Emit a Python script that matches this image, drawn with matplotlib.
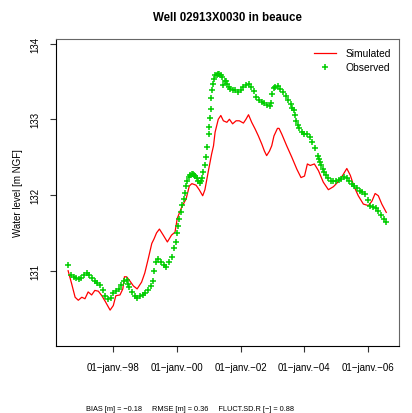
import matplotlib
matplotlib.use("Agg")
import matplotlib.pyplot as plt

plt.rcParams['font.family'] = ['Liberation Sans', 'DejaVu Sans']

# -----------------------------
# Data (decimal years, m NGF)
# -----------------------------
obs_year = [
    1996.58, 1996.67, 1996.75, 1996.83, 1996.92,
    1997.00, 1997.08, 1997.17, 1997.25, 1997.33, 1997.42, 1997.50, 1997.58, 1997.67, 1997.75, 1997.83, 1997.92,
    1998.00, 1998.08, 1998.17, 1998.25, 1998.33, 1998.42, 1998.46, 1998.50, 1998.58, 1998.67, 1998.75, 1998.83, 1998.92,
    1999.00, 1999.08, 1999.17, 1999.25, 1999.29, 1999.33, 1999.42, 1999.50, 1999.58, 1999.67, 1999.75, 1999.83, 1999.92, 1999.96,
    2000.00, 2000.04, 2000.08, 2000.13, 2000.17, 2000.21, 2000.25, 2000.29, 2000.33, 2000.38, 2000.42, 2000.46,
    2000.50, 2000.54, 2000.58, 2000.63, 2000.67, 2000.71, 2000.75, 2000.79, 2000.83, 2000.88, 2000.92, 2000.96,
    2001.00, 2001.02, 2001.04, 2001.06, 2001.08, 2001.11, 2001.13, 2001.17, 2001.21, 2001.25, 2001.29, 2001.33,
    2001.38, 2001.42, 2001.46, 2001.50, 2001.54, 2001.58, 2001.63, 2001.67, 2001.75, 2001.83, 2001.92,
    2002.00, 2002.08, 2002.17, 2002.25, 2002.33, 2002.42, 2002.50, 2002.58, 2002.67, 2002.75, 2002.83, 2002.92, 2002.96,
    2003.00, 2003.04, 2003.08, 2003.17, 2003.25, 2003.33, 2003.42, 2003.50, 2003.58, 2003.63, 2003.67, 2003.71,
    2003.75, 2003.79, 2003.83, 2003.92,
    2004.00, 2004.08, 2004.17, 2004.25, 2004.33, 2004.42, 2004.46, 2004.50, 2004.54, 2004.58, 2004.63, 2004.67,
    2004.75, 2004.83, 2004.92,
    2005.00, 2005.08, 2005.17, 2005.25, 2005.33, 2005.42, 2005.50, 2005.58, 2005.67, 2005.75, 2005.83, 2005.92,
    2006.00, 2006.08, 2006.17, 2006.25, 2006.33, 2006.42, 2006.50, 2006.58,
]
obs_level = [
    131.07, 130.95, 130.92, 130.90, 130.89,
    130.91, 130.94, 130.97, 130.94, 130.90, 130.86, 130.84, 130.81, 130.74, 130.67, 130.63, 130.64,
    130.70, 130.73, 130.76, 130.81, 130.86, 130.88, 130.83, 130.79, 130.72, 130.67, 130.64, 130.66, 130.68,
    130.71, 130.74, 130.80, 130.87, 131.00, 131.12, 131.15, 131.11, 131.08, 131.05, 131.11, 131.18, 131.30, 131.38,
    131.50, 131.59, 131.68, 131.78, 131.87, 131.95, 132.02, 132.12, 132.19, 132.24, 132.26, 132.28,
    132.28, 132.27, 132.25, 132.22, 132.19, 132.16, 132.18, 132.22, 132.31, 132.40, 132.50, 132.63,
    132.80, 132.90, 133.02, 133.13, 133.28, 133.38, 133.46, 133.53, 133.58, 133.59, 133.60, 133.60,
    133.59, 133.56, 133.45, 133.51, 133.50, 133.46, 133.43, 133.40, 133.39, 133.38, 133.36,
    133.38, 133.42, 133.45, 133.46, 133.43, 133.37, 133.30, 133.25, 133.23, 133.22, 133.19, 133.17, 133.22,
    133.33, 133.41, 133.43, 133.44, 133.40, 133.36, 133.31, 133.25, 133.20, 133.15, 133.12, 133.05,
    132.98, 132.92, 132.88, 132.83,
    132.81, 132.80, 132.76, 132.70, 132.62, 132.52, 132.48, 132.44, 132.39, 132.34, 132.30, 132.27,
    132.22, 132.19, 132.18,
    132.19, 132.20, 132.21, 132.24, 132.22, 132.18, 132.15, 132.12, 132.09, 132.05, 132.04, 132.01,
    131.93, 131.86, 131.84, 131.83, 131.79, 131.73, 131.68, 131.64,
]

sim_year = [
    1996.58, 1996.69, 1996.80, 1996.90, 1997.01, 1997.11, 1997.21, 1997.32, 1997.42, 1997.53, 1997.64, 1997.74, 1997.90,
    1998.00, 1998.08, 1998.21, 1998.30, 1998.35, 1998.42, 1998.53, 1998.63, 1998.75, 1998.89, 1998.99,
    1999.10, 1999.21, 1999.28, 1999.36, 1999.45, 1999.57, 1999.70, 1999.83, 1999.94,
    2000.01, 2000.15, 2000.29, 2000.39, 2000.47, 2000.60, 2000.70, 2000.81, 2000.88, 2000.99,
    2001.09, 2001.15, 2001.20, 2001.30, 2001.38, 2001.46, 2001.57, 2001.65, 2001.75, 2001.86, 2001.96,
    2002.09, 2002.17, 2002.25, 2002.35, 2002.46, 2002.56, 2002.67, 2002.75, 2002.82, 2002.91, 2002.98,
    2003.05, 2003.16, 2003.21, 2003.30, 2003.45, 2003.61, 2003.77, 2003.90,
    2004.01, 2004.10, 2004.19, 2004.32, 2004.45, 2004.60, 2004.76, 2004.92,
    2005.08, 2005.21, 2005.34, 2005.45, 2005.56, 2005.70, 2005.86,
    2006.02, 2006.13, 2006.23, 2006.33, 2006.44, 2006.58,
]
sim_level = [
    131.00, 130.83, 130.65, 130.61, 130.65, 130.63, 130.72, 130.68, 130.74, 130.73, 130.67, 130.60, 130.48,
    130.54, 130.67, 130.68, 130.76, 130.92, 130.92, 130.86, 130.80, 130.76, 130.85, 130.97,
    131.16, 131.36, 131.42, 131.50, 131.55, 131.47, 131.38, 131.47, 131.51,
    131.69, 131.84, 131.95, 132.12, 132.15, 132.13, 132.07, 131.99, 132.07, 132.32,
    132.54, 132.65, 132.83, 133.00, 133.05, 132.98, 132.96, 133.00, 132.94, 132.98, 132.98,
    132.95, 133.00, 133.06, 132.96, 132.87, 132.78, 132.67, 132.58, 132.52, 132.58, 132.65,
    132.78, 132.88, 132.88, 132.80, 132.65, 132.50, 132.34, 132.23,
    132.25, 132.41, 132.39, 132.41, 132.32, 132.17, 132.07, 132.11,
    132.18, 132.26, 132.35, 132.26, 132.12, 131.99, 131.88,
    131.86, 131.92, 132.02, 131.99, 131.88, 131.77,
]

tick_years = [1998, 2000, 2002, 2004, 2006]
tick_labels = ["01\u2212janv.\u221298", "01\u2212janv.\u221200", "01\u2212janv.\u221202",
               "01\u2212janv.\u221204", "01\u2212janv.\u221206"]
y_ticks = [131, 132, 133, 134]

stats_text = "BIAS [m] = \u22120.18     RMSE [m] = 0.36     FLUCT.SD.R [\u2212] = 0.88"

# -----------------------------
# Figure
# -----------------------------
W, H = 412, 414
fig = plt.figure(figsize=(W / 100, H / 100), dpi=100)
ax = fig.add_axes([55.7 / W, 1 - 346.7 / H, (399 - 55.7) / W, (346.7 - 40) / H])

ax.plot(sim_year, sim_level, color="red", lw=0.9, label="Simulated")
ax.plot(obs_year, obs_level, ls="none", marker="+", ms=5, mew=1.1,
        color="#00CD00", label="Observed")

ax.set_xlim(1996.19, 2006.98)
ax.set_ylim(130.01, 134.06)

ax.set_xticks(tick_years)
ax.set_xticklabels(tick_labels, fontsize=7)
ax.set_yticks(y_ticks)
ax.set_yticklabels([str(v) for v in y_ticks], fontsize=7, rotation=90, va="center")
ax.tick_params(axis="x", length=4.5, width=0.8, pad=7, color="#333333")
ax.tick_params(axis="y", length=4, width=0.8, pad=7, color="#333333")

for s in ["left", "bottom"]:
    ax.spines[s].set_color("black")
    ax.spines[s].set_linewidth(0.8)
for s in ["top", "right"]:
    ax.spines[s].set_color("#666666")
    ax.spines[s].set_linewidth(0.8)

ax.set_ylabel("Water level [m NGF]", fontsize=7, labelpad=5)
ax.set_title("Well 02913X0030 in beauce", fontsize=8.3, fontweight="bold", pad=14)

ax.legend(loc="upper right", frameon=False, fontsize=7.4, handlelength=2.2,
          handletextpad=0.9, borderaxespad=0.2, labelspacing=0.4,
          bbox_to_anchor=(0.995, 0.99))

fig.text(86 / W, 1 - 410 / H, stats_text, fontsize=5.3, ha="left", va="center")

fig.savefig("out.png", dpi=100)
